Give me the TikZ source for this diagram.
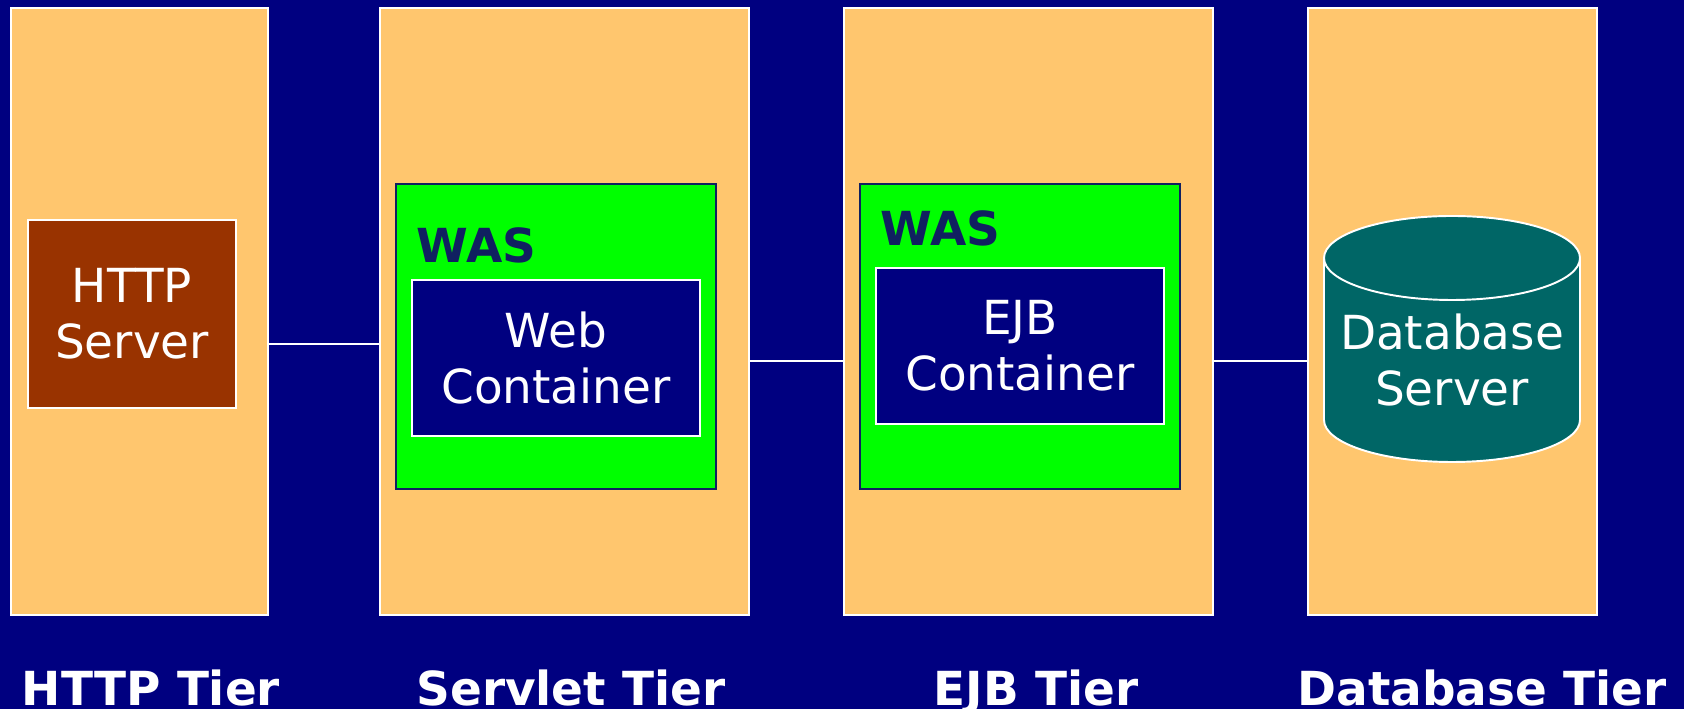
\documentclass[tikz,border=0pt]{standalone}
\usepackage{fontspec}
\setmainfont{DejaVu Sans}
\definecolor{navy}{RGB}{0,0,128}
\definecolor{tiercol}{RGB}{255,198,110}
\definecolor{httpbrown}{RGB}{153,51,0}
\definecolor{wasgreen}{RGB}{0,255,0}
\definecolor{dbteal}{RGB}{0,102,102}
\definecolor{wasnavy}{RGB}{16,32,96}
\tikzset{
  tier/.style={draw=white, line width=1.1pt, fill=tiercol, inner sep=0pt},
  srvbox/.style={draw=white, line width=1.1pt, text=white, align=center, inner sep=0pt,
    font=\fontsize{26.7pt}{31.9pt}\selectfont},
  wasbox/.style={draw=wasnavy, line width=1.1pt, fill=wasgreen, inner sep=0pt},
  wastitle/.style={text=wasnavy, anchor=west, inner sep=0pt,
    font=\fontsize{26.7pt}{32pt}\selectfont\bfseries},
  tierlabel/.style={text=white, anchor=base, inner sep=0pt,
    font=\fontsize{26.7pt}{32pt}\selectfont\bfseries},
  link/.style={draw=white, line width=1.1pt}
}
\begin{document}
\begin{tikzpicture}[x=0.02cm, y=0.02cm]
  \fill[navy] (0,0) rectangle (1684,709);
  \useasboundingbox (0,0) rectangle (1684,709);

  \node[tier, minimum width=5.14cm, minimum height=12.14cm] (httpcol) at (139.5,397.5) {};
  \node[tier, minimum width=7.38cm, minimum height=12.14cm] (servletcol) at (564.5,397.5) {};
  \node[tier, minimum width=7.38cm, minimum height=12.14cm] (ejbcol) at (1028.5,397.5) {};
  \node[tier, minimum width=5.78cm, minimum height=12.14cm] (dbcol) at (1452.5,397.5) {};

  \node[srvbox, fill=httpbrown, minimum width=4.16cm, minimum height=3.76cm] (httpsrv) at (132,395) {HTTP\\Server};

  \node[wasbox, minimum width=6.4cm, minimum height=6.1cm] (was1) at (556,372.5) {};
  \node[wastitle] (wastitle1) at (416,464) {WAS};
  \node[srvbox, fill=navy, minimum width=5.76cm, minimum height=3.12cm] (webcont) at (556,351) {Web\\Container};

  \node[wasbox, minimum width=6.4cm, minimum height=6.1cm] (was2) at (1020,372.5) {};
  \node[wastitle] (wastitle2) at (880,481) {WAS};
  \node[srvbox, fill=navy, minimum width=5.76cm, minimum height=3.12cm] (ejbcont) at (1020,363) {EJB\\Container};

  \fill[dbteal] (1324,451) -- (1324,289) arc (180:360:128 and 42) -- (1580,451) arc (0:180:128 and 42) -- cycle;
  \draw[link] (1324,451) -- (1324,289) arc (180:360:128 and 42) -- (1580,451);
  \draw[link] (1452,451) ellipse (128 and 42);
  \node[srvbox, draw=none] (dbsrv) at (1452,349) {Database\\Server};

  \coordinate (l1) at (0,365);
  \coordinate (l2) at (0,348);
  \draw[link] (httpcol.east |- l1) -- (servletcol.west |- l1);
  \draw[link] (servletcol.east |- l2) -- (ejbcol.west |- l2);
  \draw[link] (ejbcol.east |- l2) -- (dbcol.west |- l2);

  \node[tierlabel] (httptier) at (151,3) {HTTP Tier};
  \node[tierlabel] (servlettier) at (571,3) {Servlet Tier};
  \node[tierlabel] (ejbtier) at (1036,3) {EJB Tier};
  \node[tierlabel] (dbtier) at (1482,3) {Database Tier};
\end{tikzpicture}
\end{document}
